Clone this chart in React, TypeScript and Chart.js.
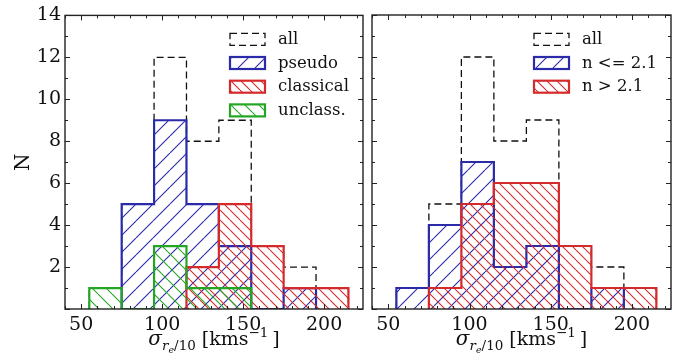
import { useEffect, useRef } from 'react';
import { Chart, registerables } from 'chart.js';

Chart.register(...registerables);

// ---------- data ----------
const binEdges = [55, 75, 95, 115, 135, 155, 175, 195, 215];
const allCounts = [1, 5, 12, 8, 9, 3, 2, 1];
const pseudoCounts = [0, 5, 9, 5, 3, 0, 1, 0];
const classicalCounts = [0, 0, 0, 2, 5, 3, 1, 1];
const unclassCounts = [1, 0, 3, 1, 1, 0, 0, 0];
const lowNCounts = [1, 4, 7, 2, 3, 0, 1, 0];
const highNCounts = [0, 1, 5, 6, 6, 3, 1, 1];
const xMajorTicks = [50, 100, 150, 200];
const yMajorTicks = [0, 2, 4, 6, 8, 10, 12, 14];
const leftLabels = ['all', 'pseudo', 'classical', 'unclass.'];
const rightLabels = ['all', 'n <= 2.1', 'n > 2.1'];

// ---------- styles ----------
const X_MIN = 40;
const X_MAX = 224;
const Y_MIN = 0;
const Y_MAX = 14;
const X_MINOR = 10;
const Y_MINOR = 1;
const SERIF = "'DejaVu Serif', serif";
const BLUE = '#2b2baa';
const RED = '#d42a2c';
const GREEN = '#24a624';
const INK = '#111';

function stepPoints(edges: number[], counts: number[]) {
  let first = 0;
  while (first < counts.length && counts[first] === 0) first++;
  let last = counts.length - 1;
  while (last >= 0 && counts[last] === 0) last--;
  const pts: { x: number; y: number }[] = [{ x: edges[first], y: 0 }];
  for (let i = first; i <= last; i++) {
    pts.push({ x: edges[i], y: counts[i] });
    pts.push({ x: edges[i + 1], y: counts[i] });
  }
  pts.push({ x: edges[last + 1], y: 0 });
  return pts;
}

function hatch(target: CanvasRenderingContext2D, color: string, s: number, dir: 'ne' | 'nw', lw = 1.1) {
  const c = document.createElement('canvas');
  c.width = s;
  c.height = s;
  const g = c.getContext('2d')!;
  g.strokeStyle = color;
  g.lineWidth = lw;
  g.beginPath();
  for (let k = -1; k <= 1; k++) {
    if (dir === 'ne') {
      g.moveTo(k * s, s);
      g.lineTo(k * s + s, 0);
    } else {
      g.moveTo(k * s, 0);
      g.lineTo(k * s + s, s);
    }
  }
  g.stroke();
  return target.createPattern(c, 'repeat')!;
}

type LegendItem = { label: string; color: string; fill: CanvasPattern | null; dashed: boolean };

function framePlugin(id: string) {
  return {
    id,
    afterDraw(chart: any) {
      const { ctx, chartArea: a, scales } = chart;
      const x = scales.x;
      const y = scales.y;
      ctx.save();
      ctx.strokeStyle = '#222';
      ctx.lineWidth = 1;
      ctx.beginPath();
      for (let v = X_MIN; v <= X_MAX; v += X_MINOR) {
        const px = Math.round(x.getPixelForValue(v)) + 0.5;
        const len = xMajorTicks.includes(v) ? 5 : 3;
        ctx.moveTo(px, a.bottom);
        ctx.lineTo(px, a.bottom - len);
        ctx.moveTo(px, a.top);
        ctx.lineTo(px, a.top + len);
      }
      for (let v = Y_MIN; v <= Y_MAX; v += Y_MINOR) {
        const py = Math.round(y.getPixelForValue(v)) + 0.5;
        const len = yMajorTicks.includes(v) ? 5 : 3;
        ctx.moveTo(a.left, py);
        ctx.lineTo(a.left + len, py);
        ctx.moveTo(a.right, py);
        ctx.lineTo(a.right - len, py);
      }
      ctx.stroke();
      ctx.lineWidth = 1.4;
      ctx.strokeRect(a.left, a.top, a.right - a.left, a.bottom - a.top);
      ctx.restore();
    },
  };
}

function legendPlugin(id: string, items: LegendItem[], bx: number, by: number) {
  return {
    id,
    afterDraw(chart: any) {
      const { ctx } = chart;
      ctx.save();
      const w = 35;
      const h = 12;
      const gap = 23.7;
      items.forEach((it, i) => {
        const y0 = by + i * gap;
        if (it.dashed) {
          ctx.setLineDash([7, 4]);
          ctx.lineWidth = 1.3;
          ctx.strokeStyle = INK;
          ctx.strokeRect(bx, y0, w, h);
          ctx.setLineDash([]);
        } else {
          if (it.fill) {
            ctx.fillStyle = it.fill;
            ctx.fillRect(bx, y0, w, h);
          }
          ctx.lineWidth = 2.2;
          ctx.strokeStyle = it.color;
          ctx.strokeRect(bx, y0, w, h);
        }
        ctx.fillStyle = INK;
        ctx.font = `16.5px ${SERIF}`;
        ctx.textBaseline = 'middle';
        ctx.textAlign = 'left';
        ctx.fillText(it.label, bx + 48, y0 + h / 2 + 0.5);
      });
      ctx.restore();
    },
  };
}

function titlePlugin(id: string, showN: boolean) {
  return {
    id,
    afterDraw(chart: any) {
      const { ctx, chartArea: a } = chart;
      ctx.save();
      ctx.fillStyle = INK;
      ctx.textBaseline = 'alphabetic';
      ctx.textAlign = 'left';
      const parts = [
        { t: 'σ', f: `italic 20px ${SERIF}`, dy: 0 },
        { t: 'r', f: `italic 13.5px ${SERIF}`, dy: 5 },
        { t: 'e', f: `italic 9.5px ${SERIF}`, dy: 8 },
        { t: '/10', f: `13.5px ${SERIF}`, dy: 5 },
        { t: ' [kms', f: `19px ${SERIF}`, dy: 0 },
        { t: '−1', f: `13.5px ${SERIF}`, dy: -8 },
        { t: '\u2009]', f: `19px ${SERIF}`, dy: 0 },
      ];
      const widths = parts.map((p) => {
        ctx.font = p.f;
        return ctx.measureText(p.t).width;
      });
      const total = widths.reduce((s, v) => s + v, 0);
      let cx = (a.left + a.right) / 2 - total / 2;
      const base = 345;
      parts.forEach((p, i) => {
        ctx.font = p.f;
        ctx.fillText(p.t, cx, base + p.dy);
        cx += widths[i];
      });
      if (showN) {
        ctx.save();
        ctx.translate(24, (a.top + a.bottom) / 2);
        ctx.rotate(-Math.PI / 2);
        ctx.font = `20px ${SERIF}`;
        ctx.textAlign = 'center';
        ctx.textBaseline = 'middle';
        ctx.fillText('N', 0, 0);
        ctx.restore();
      }
      ctx.restore();
    },
  };
}

function histDataset(counts: number[], color: string, fill: CanvasPattern | null, order: number, dashed = false) {
  return {
    data: stepPoints(binEdges, counts),
    borderColor: dashed ? INK : color,
    borderWidth: dashed ? 1.3 : 2.2,
    borderDash: dashed ? [7, 4] : [],
    backgroundColor: fill ?? 'rgba(0,0,0,0)',
    fill: fill ? 'origin' : false,
    pointRadius: 0,
    pointHoverRadius: 0,
    tension: 0,
    borderJoinStyle: 'miter' as const,
    borderCapStyle: 'butt' as const,
    order,
  };
}

function makeOptions(showY: boolean, padding: any) {
  const font = { family: SERIF, size: 19 };
  return {
    responsive: false,
    animation: false as const,
    layout: { padding },
    plugins: { legend: { display: false }, tooltip: { enabled: false } },
    events: [],
    scales: {
      x: {
        type: 'linear' as const,
        min: X_MIN,
        max: X_MAX,
        afterBuildTicks: (s: any) => {
          s.ticks = xMajorTicks.map((v) => ({ value: v }));
        },
        ticks: { font, color: INK, padding: 5, maxRotation: 0, autoSkip: false },
        grid: { display: false, drawTicks: false },
        border: { display: false },
        afterFit: (s: any) => {
          s.height = 53;
        },
      },
      y: {
        type: 'linear' as const,
        display: showY,
        min: Y_MIN,
        max: Y_MAX,
        afterBuildTicks: (s: any) => {
          s.ticks = yMajorTicks.map((v) => ({ value: v }));
        },
        ticks: {
          font,
          color: INK,
          padding: 4,
          autoSkip: false,
          callback: (v: any) => (v === 0 ? '' : String(v)),
        },
        grid: { display: false, drawTicks: false },
        border: { display: false },
        afterFit: (s: any) => {
          s.width = showY ? 65 : 0;
        },
      },
    },
  };
}

export default function App() {
  const leftRef = useRef<HTMLCanvasElement>(null);
  const rightRef = useRef<HTMLCanvasElement>(null);

  useEffect(() => {
    const lctx = leftRef.current!.getContext('2d')!;
    const rctx = rightRef.current!.getContext('2d')!;

    const lBlue = hatch(lctx, BLUE, 17, 'ne');
    const lRed = hatch(lctx, RED, 10, 'nw');
    const lGreen = hatch(lctx, GREEN, 14, 'nw');
    const rBlue = hatch(rctx, BLUE, 17, 'ne');
    const rRed = hatch(rctx, RED, 10, 'nw');

    const leftLegend: LegendItem[] = [
      { label: leftLabels[0], color: INK, fill: null, dashed: true },
      { label: leftLabels[1], color: BLUE, fill: lBlue, dashed: false },
      { label: leftLabels[2], color: RED, fill: lRed, dashed: false },
      { label: leftLabels[3], color: GREEN, fill: lGreen, dashed: false },
    ];
    const rightLegend: LegendItem[] = [
      { label: rightLabels[0], color: INK, fill: null, dashed: true },
      { label: rightLabels[1], color: BLUE, fill: rBlue, dashed: false },
      { label: rightLabels[2], color: RED, fill: rRed, dashed: false },
    ];

    const left = new Chart(leftRef.current!, {
      type: 'line',
      data: {
        datasets: [
          histDataset(allCounts, INK, null, 4, true),
          histDataset(pseudoCounts, BLUE, lBlue, 3),
          histDataset(classicalCounts, RED, lRed, 2),
          histDataset(unclassCounts, GREEN, lGreen, 1),
        ] as any,
      },
      options: makeOptions(true, { left: 0, right: 4, top: 15, bottom: 0 }) as any,
      plugins: [framePlugin('frameL'), legendPlugin('legL', leftLegend, 230, 33.3), titlePlugin('titleL', true)],
    });

    const right = new Chart(rightRef.current!, {
      type: 'line',
      data: {
        datasets: [
          histDataset(allCounts, INK, null, 3, true),
          histDataset(lowNCounts, BLUE, rBlue, 2),
          histDataset(highNCounts, RED, rRed, 1),
        ] as any,
      },
      options: makeOptions(false, { left: 6, right: 12, top: 15, bottom: 0 }) as any,
      plugins: [framePlugin('frameR'), legendPlugin('legR', rightLegend, 168, 33.3), titlePlugin('titleR', false)],
    });

    return () => {
      left.destroy();
      right.destroy();
    };
  }, []);

  return (
    <div style={{ position: 'absolute', left: 0, top: 0, width: 683, height: 362, background: '#fff' }}>
      <canvas ref={leftRef} width={367} height={362} style={{ position: 'absolute', left: 0, top: 0 }} />
      <canvas ref={rightRef} width={317} height={362} style={{ position: 'absolute', left: 366, top: 0 }} />
    </div>
  );
}
